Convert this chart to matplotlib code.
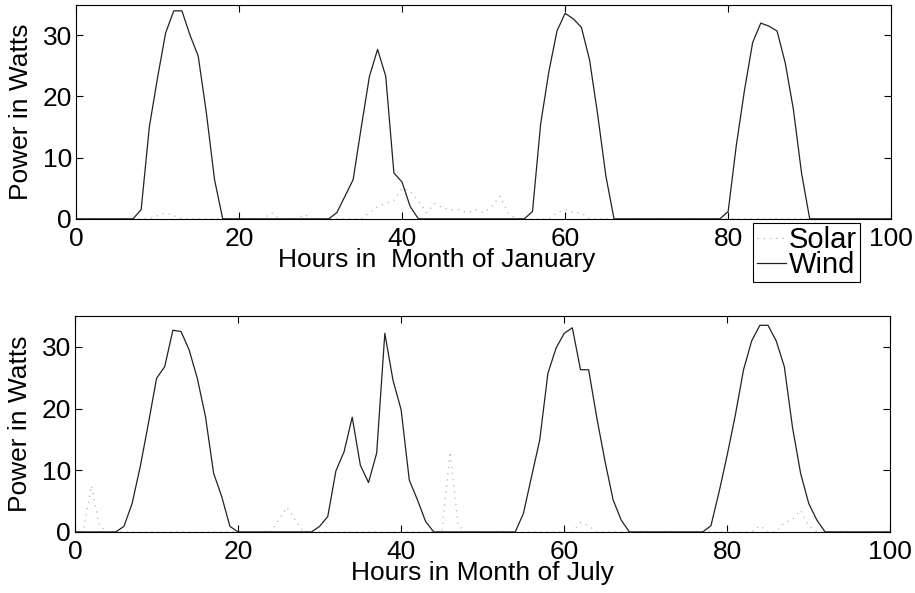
import numpy as np
import matplotlib.pyplot as plt

plt.rcParams['font.family'] = ['Liberation Sans', 'DejaVu Sans']

# hourly samples, hours 0..100
hours = np.arange(0, 101)

# January power (W)
jan_wind = [
    0, 0, 0, 0, 0, 0, 0, 0, 1.5, 15,
    23, 30.4, 34, 34, 30, 26.6, 17.3, 6.4, 0, 0,
    0, 0, 0, 0, 0, 0, 0, 0, 0, 0,
    0, 0, 1, 3.7, 6.4, 15, 23.3, 27.7, 23.3, 7.5,
    6, 2, 0, 0, 0, 0, 0, 0, 0, 0,
    0, 0, 0, 0, 0, 0, 1.2, 15.5, 24, 30.7,
    33.6, 32.7, 31.3, 26, 17, 7, 0, 0, 0, 0,
    0, 0, 0, 0, 0, 0, 0, 0, 0, 0,
    1.2, 12, 21, 28.8, 32, 31.5, 30.7, 25.5, 17.9, 7.5,
    0, 0, 0, 0, 0, 0, 0, 0, 0, 0,
    0,
]
jan_solar = [
    0, 0, 0, 0, 0, 0, 0, 0, 0, 0,
    0.5, 1, 0.5, 0, 0, 0, 0, 0, 0, 0,
    0, 0, 0, 0, 1, 0, 0, 0, 0.7, 0,
    0, 0, 0, 0, 0, 0, 1, 2, 2.5, 3,
    5, 4.5, 3, 1, 2.5, 1.8, 1.5, 1.5, 1, 1.5,
    1, 2, 3.7, 1, 0, 0, 0, 0, 0, 1,
    1.5, 1, 1, 0, 0, 0, 0, 0, 0, 0,
    0, 0, 0, 0, 0, 0, 0, 0, 0, 0,
    0, 0, 0, 0, 0, 0, 0, 0, 0, 0,
    0, 0, 0, 0, 0, 0, 0, 0, 0, 0,
    0,
]

# July power (W)
jul_wind = [
    0, 0, 0, 0, 0, 0, 0.9, 4.6, 10.6, 17.6,
    24.9, 26.8, 32.7, 32.5, 29.5, 24.9, 18.7, 9.5, 5.7, 0.9,
    0, 0, 0, 0, 0, 0, 0, 0, 0, 0,
    0.9, 2.5, 9.9, 13, 18.6, 10.8, 8, 12.8, 32.2, 24.6,
    19.8, 8.4, 5.2, 1.7, 0, 0, 0, 0, 0, 0,
    0, 0, 0, 0, 0, 3, 9, 14.9, 25.7, 29.8,
    32.2, 33.1, 26.3, 26.3, 18.5, 11.5, 5.2, 1.9, 0, 0,
    0, 0, 0, 0, 0, 0, 0, 0, 1, 6.5,
    12.5, 19, 26.3, 31, 33.5, 33.5, 31, 26.8, 17, 9.5,
    4.6, 1.9, 0, 0, 0, 0, 0, 0, 0, 0,
    0,
]
jul_solar = [
    0, 0, 7.5, 1, 0, 0, 0, 0, 0, 0,
    0, 0, 0, 0, 0, 0, 0, 0, 0, 0,
    0, 0, 0, 0, 0, 2, 4, 2, 0, 0,
    0, 0, 0, 0, 0, 0, 0, 0, 0, 0,
    0, 0, 0, 0, 0, 0, 13, 1, 0, 0,
    0, 0, 0, 0, 0, 0, 0, 0, 0, 0,
    0, 0, 1.5, 1, 0, 0, 0, 0, 0, 0,
    0, 0, 0, 0, 0, 0, 0, 0, 0, 0,
    0, 0, 0, 0, 1, 0, 0, 1.5, 2, 3.5,
    1, 0, 0, 0, 0, 0, 0, 0, 0, 0,
    0,
]

xticks = [0, 20, 40, 60, 80, 100]
yticks = [0, 10, 20, 30]
fs = 19

fig = plt.figure(figsize=(9.15, 5.93), dpi=100)
ax1 = fig.add_axes([0.083, 0.631, 0.891, 0.361])
ax2 = fig.add_axes([0.082, 0.103, 0.891, 0.364])

panels = [
    (ax1, jan_solar, jan_wind, 'Hours in  Month of January'),
    (ax2, jul_solar, jul_wind, 'Hours in Month of July'),
]
for ax, solar, wind, xlab in panels:
    ln_s, = ax.plot(hours, solar, color='#b4b4b4', lw=0.9,
                    linestyle=(0, (1, 4)), label='Solar')
    ln_w, = ax.plot(hours, wind, color='#222222', lw=0.9, label='Wind')
    ax.set_xlim(0, 100)
    ax.set_ylim(0, 35)
    ax.set_xticks(xticks)
    ax.set_yticks(yticks)
    ax.tick_params(direction='in', length=5, width=0.8, labelsize=fs,
                   top=True, right=True)
    ax.tick_params(axis='x', pad=6)
    ax.tick_params(axis='y', pad=3)
    for sp in ax.spines.values():
        sp.set_linewidth(0.8)
    ax.set_xlabel(xlab, fontsize=fs, labelpad=-2)
    ax.set_ylabel('Power in Watts', fontsize=fs, labelpad=7)

# January label sits left of centre, clear of the legend
ax1.xaxis.label.set_x(0.442)

leg = fig.legend([ln_s, ln_w], ['Solar', 'Wind'], loc='upper left',
                 bbox_to_anchor=(0.823, 0.624), fontsize=21,
                 handlelength=1.0, handletextpad=0.1, borderpad=0.12,
                 labelspacing=-0.12, borderaxespad=0, fancybox=False,
                 framealpha=1)
leg.get_frame().set_edgecolor('black')
leg.get_frame().set_linewidth(0.8)

fig.savefig('out.png', dpi=100)
